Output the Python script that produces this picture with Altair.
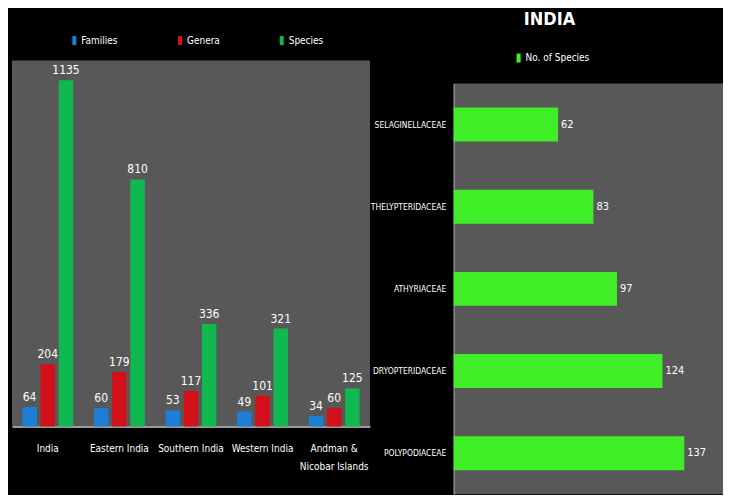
import altair as alt
import pandas as pd

FONT = "Liberation Sans Narrow, DejaVu Sans Condensed, sans-serif"

regions = ["India", "Eastern India", "Southern India", "Western India", "Andman & Nicobar Islands"]
families = [64, 60, 53, 49, 34]
genera = [204, 179, 117, 101, 60]
species = [1135, 810, 336, 321, 125]
series_names = ["Families", "Genera", "Species"]
series_colors = ["#1b7fd6", "#d3101a", "#10b850"]

fern_families = ["SELAGINELLACEAE", "THELYPTERIDACEAE", "ATHYRIACEAE", "DRYOPTERIDACEAE", "POLYPODIACEAE"]
fern_species = [62, 83, 97, 124, 137]
fern_series = ["No. of Species"]
fern_color = ["#40ee28"]

rows = []
for i, r in enumerate(regions):
    for s, vals in zip(series_names, [families, genera, species]):
        rows.append({"region": r, "series": s, "value": vals[i]})
left_df = pd.DataFrame(rows)

right_df = pd.DataFrame({"family": fern_families, "count": fern_species,
                         "series": fern_series * len(fern_families)})

bar_symbol = "M-0.45,-1V1H0.45V-1Z"

# ---------- left panel ----------
x_left = alt.X("region:N", sort=regions, title=None,
               scale=alt.Scale(paddingInner=0.29, paddingOuter=0.145),
               axis=alt.Axis(labelColor="white", labelFont=FONT, labelFontSize=10,
                             labelAngle=0, labelPadding=17, labelLineHeight=18,
                             labelBaseline="top",
                             ticks=False, domainColor="#9a9a9a", domainWidth=2,
                             labelExpr="datum.label == 'Andman & Nicobar Islands' ? ['Andman &', 'Nicobar Islands'] : datum.label"))
xoff = alt.XOffset("series:N", sort=series_names,
                   scale=alt.Scale(paddingInner=0.205, paddingOuter=0))
y_left = alt.Y("value:Q", axis=None, scale=alt.Scale(domain=[0, 1200]))

left_bars = alt.Chart(left_df).mark_bar().encode(
    x=x_left, xOffset=xoff, y=y_left,
    color=alt.Color("series:N", sort=series_names,
                    scale=alt.Scale(domain=series_names, range=series_colors),
                    legend=alt.Legend(orient="none", legendX=57.5, legendY=-25,
                                      direction="horizontal", title=None,
                                      labelColor="white", labelFont=FONT, labelFontSize=10,
                                      symbolType=bar_symbol, symbolSize=81, symbolStrokeWidth=0,
                                      labelOffset=2, columnPadding=57)),
)
left_text = alt.Chart(left_df).mark_text(color="white", font=FONT, fontSize=12,
                                         baseline="bottom", dy=-3).encode(
    x=x_left, xOffset=xoff, y=y_left, text="value:Q")
left = alt.layer(left_bars, left_text).properties(width=359, height=367)

# ---------- right panel ----------
right_color = alt.Color("series:N", scale=alt.Scale(domain=fern_series, range=fern_color),
                        legend=alt.Legend(orient="none", legendX=60, legendY=-7.5,
                                          title=None, labelColor="white", labelFont=FONT,
                                          labelFontSize=10, symbolType=bar_symbol,
                                          symbolSize=81, symbolStrokeWidth=0,
                                          symbolFillColor="#40ee28",
                                          symbolOpacity=1, labelOffset=2))

header = alt.Chart(right_df).mark_point(filled=True, opacity=0).encode(color=right_color).properties(
    width=270, height=23,
    view=alt.ViewBackground(fill="black", stroke=None),
    title=alt.TitleParams("INDIA", color="white", font=FONT, fontSize=18, fontWeight="bold",
                          anchor="middle", frame="group", dx=-39, offset=24))

y_right = alt.Y("family:N", sort=fern_families, title=None,
                scale=alt.Scale(paddingInner=0.587, paddingOuter=0.2935),
                axis=alt.Axis(labelColor="white", labelFont=FONT, labelFontSize=8.5,
                              labelPadding=8, ticks=False, domainColor="#8a8a8a",
                              domainWidth=1.5))
x_right = alt.X("count:Q", axis=None, scale=alt.Scale(domain=[0, 160]))
right_bars = alt.Chart(right_df).mark_bar().encode(
    y=y_right, x=x_right,
    color=alt.Color("series:N", scale=alt.Scale(domain=fern_series, range=fern_color),
                    legend=None),
)
right_text = alt.Chart(right_df).mark_text(color="white", font=FONT, fontSize=11,
                                           align="left", baseline="middle", dx=3).encode(
    y=y_right, x=x_right, text="count:Q")
right = alt.layer(right_bars, right_text).properties(width=270, height=412)

right_col = alt.vconcat(header, right, spacing=0).resolve_scale(color="independent")

chart = alt.hconcat(left, right_col, spacing=0).resolve_scale(
    color="independent").properties(
    background="black",
    padding={"left": 4, "top": 2, "right": 0, "bottom": 0},
).configure_view(fill="#585858", stroke=None)

chart.save("out.html", embed_options={"renderer": "svg", "actions": False})
